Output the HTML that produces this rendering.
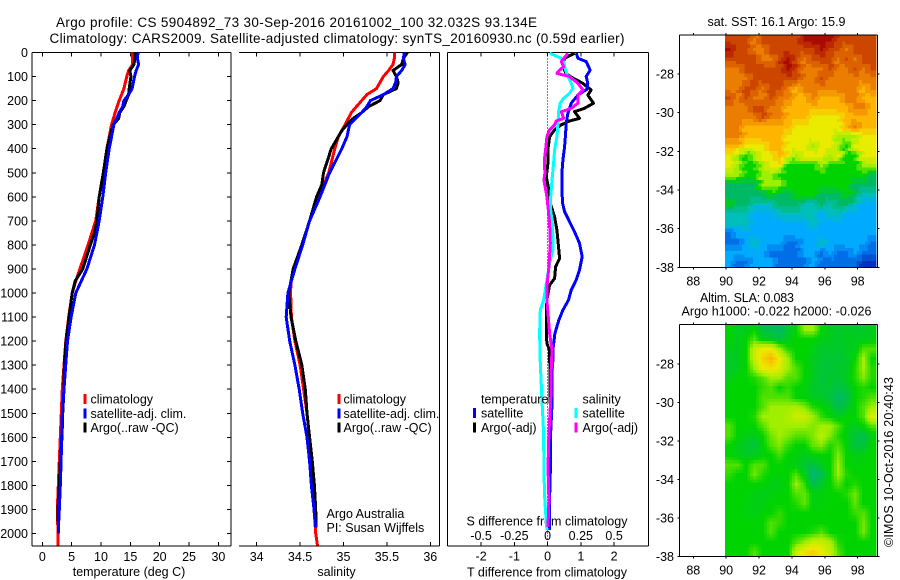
<!DOCTYPE html>
<html><head><meta charset="utf-8"><title>Argo profile</title>
<style>
html,body{margin:0;padding:0;background:#fff}
svg{display:block}
text{font-family:"Liberation Sans",sans-serif;font-size:12.5px;fill:#000}
.t{font-size:13.5px}
</style></head>
<body>
<svg id="fig" width="900" height="580" viewBox="0 0 900 580" xmlns="http://www.w3.org/2000/svg">
<text class="t" x="56" y="27" textLength="481" lengthAdjust="spacing">Argo profile: CS 5904892_73 30-Sep-2016 20161002_100 32.032S 93.134E</text>
<text class="t" x="49.5" y="43" textLength="575" lengthAdjust="spacing">Climatology: CARS2009. Satellite-adjusted climatology: synTS_20160930.nc (0.59d earlier)</text>
<text x="129" y="576" text-anchor="middle">temperature (deg C)</text>
<text x="336.5" y="576" text-anchor="middle">salinity</text>
<text x="547" y="576.5" text-anchor="middle">T difference from climatology</text>
<text x="547" y="525.5" text-anchor="middle">S difference from climatology</text>
<text x="326.5" y="518">Argo Australia</text>
<text x="326.5" y="532">PI: Susan Wijffels</text>
<text x="707.5" y="26" textLength="138" lengthAdjust="spacing">sat. SST: 16.1 Argo: 15.9</text>
<text x="700" y="302" textLength="94" lengthAdjust="spacing">Altim. SLA: 0.083</text>
<text x="681.5" y="315.5" textLength="190" lengthAdjust="spacing">Argo h1000: -0.022 h2000: -0.026</text>
<text transform="translate(893,547) rotate(-90)" textLength="170" lengthAdjust="spacing">©IMOS 10-Oct-2016 20:40:43</text>
<g id="maps"></g>
<g id="axes"></g>
<g id="series"></g>
<g id="legends"></g>
</svg>
<script>
const depthTicks = [0,100,200,300,400,500,600,700,800,900,1000,1100,1200,1300,1400,1500,1600,1700,1800,1900,2000];
const tempTicks = [0,5,10,15,20,25,30];
const salTicks = [34,34.5,35,35.5,36];
const tDiffTicks = [-2,-1,0,1,2];
const sDiffTicks = [-0.5,-0.25,0,0.25,0.5];
const sDiffTickLabels = ['-0.5','-0.25','0','0.25','0.5'];
const lonTicks = [88,90,92,94,96,98];
const latTicks = [-28,-30,-32,-34,-36,-38];

const tempClimDepth = [0,25,50,75,100,150,200,250,300,350,400,500,600,700,800,900,950,1000,1100,1200,1300,1400,1500,1600,1700,1800,1900,2000,2050];
const tempClim = [15.3,15.4,15.4,14.7,14.4,13.9,13.1,12.4,11.8,11.4,11.0,10.5,9.7,9.1,7.8,6.4,5.7,5.1,4.5,4.0,3.7,3.4,3.24,3.07,2.9,2.73,2.56,2.67,2.7];
const tempSatDepth = [0,25,50,75,100,150,175,200,225,250,300,400,500,600,700,800,900,1000,1100,1200,1300,1400,1500,1600,1700,1800,1900,1950,2000];
const tempSat = [16.3,16.2,16.4,16.0,15.7,15.3,14.7,13.9,13.7,13.1,12.2,11.4,10.8,10.3,9.7,8.9,7.6,5.7,4.9,4.3,3.98,3.7,3.4,3.3,3.2,3.07,2.9,2.8,2.73];
const tempArgoDepth = [0,25,50,75,100,150,175,200,225,250,275,300,350,400,500,600,700,750,800,900,950,1000,1100,1200,1300,1400,1500,1600,1700,1800,1900,1950];
const tempArgo = [15.8,15.8,15.6,14.9,15.1,14.8,14.7,14.3,13.9,13.2,13.0,12.1,11.5,11.0,10.4,9.7,9.3,8.9,8.2,6.9,5.6,5.1,4.55,4.04,3.75,3.7,3.47,3.36,3.07,2.9,2.67,2.67];

const salClimDepth = [0,25,50,75,100,150,175,200,250,300,350,400,500,600,700,800,900,950,1000,1100,1200,1300,1400,1500,1600,1700,1800,1900,1950,2000,2050];
const salClim = [35.585,35.585,35.57,35.52,35.46,35.38,35.27,35.21,35.09,35.02,34.94,34.90,34.83,34.71,34.61,34.52,34.43,34.395,34.39,34.40,34.44,34.50,34.54,34.58,34.61,34.63,34.645,34.66,34.67,34.68,34.70];
const salSatDepth = [0,25,50,75,100,125,150,175,200,225,250,300,350,400,500,600,700,800,900,1000,1100,1200,1300,1400,1500,1600,1700,1800,1900,1975];
const salSat = [35.70,35.69,35.71,35.67,35.61,35.60,35.57,35.46,35.31,35.27,35.21,35.07,35.04,34.98,34.84,34.73,34.61,34.53,34.44,34.36,34.34,34.38,34.44,34.49,34.53,34.58,34.61,34.63,34.66,34.68];
const salArgoDepth = [0,25,50,75,100,125,150,175,200,225,250,275,300,325,350,400,500,550,600,700,800,900,1000,1100,1200,1300,1400,1500,1600,1700,1800,1900,1975];
const salArgo = [35.735,35.69,35.67,35.57,35.61,35.63,35.61,35.46,35.42,35.29,35.21,35.11,35.04,34.98,34.94,34.86,34.77,34.75,34.69,34.61,34.52,34.42,34.37,34.395,34.45,34.52,34.56,34.58,34.61,34.64,34.665,34.68,34.685];

const dTempSatDepth = [3,24,38,73,100,128,153,177,211,253,295,336,392,447,502,572,627,662,703,745,793,849,904,946,988,1029,1071,1112,1168,1237,1279,1334,1417,1473,1584,1653,1722,1861,1986];
const dTempSat = [0.86,0.91,1.16,1.28,1.16,1.21,1.18,0.91,0.71,0.61,0.56,0.54,0.51,0.46,0.43,0.43,0.45,0.51,0.66,0.81,0.96,1.04,0.96,0.86,0.71,0.63,0.46,0.34,0.22,0.16,0.16,0.13,0.13,0.13,0.09,0.08,0.08,0.06,0.06];
const dTempArgoDepth = [3,24,45,73,87,100,128,156,177,211,232,246,274,285,301,322,350,405,461,516,572,627,683,738,793,856,891,939,967,1029,1085,1168,1210,1237,1473,1750];
const dTempArgo = [0.81,0.51,0.46,0.51,0.56,0.68,1.06,1.31,1.21,1.38,1.11,0.81,0.96,0.66,0.41,0.21,0.06,0.01,0.01,-0.04,0.04,0.08,0.21,0.28,0.32,0.36,0.24,0.21,0.06,-0.02,-0.04,-0.04,-0.02,0.06,0.08,0.08];
const dSalSatDepth = [3,24,38,73,100,128,149,170,191,211,246,295,350,405,461,530,599,655,710,766,821,877,1029,1071,1168,1293,1376,1473,1584,1722,1833,1889,1986];
const dSalSat = [0.015,0.103,0.12,0.135,0.153,0.178,0.19,0.165,0.12,0.095,0.083,0.078,0.07,0.053,0.045,0.033,0.023,0.023,0.035,0.04,0.04,0.015,-0.03,-0.055,-0.06,-0.055,-0.048,-0.04,-0.03,-0.028,-0.023,-0.018,-0.005];
const dSalArgoDepth = [3,38,59,80,87,100,128,156,177,211,232,246,274,285,301,322,350,405,447,502,530,599,655,710,793,891,960,1029,1085,1168,1237,1306,1445,1584,1722,1861,1972];
const dSalArgo = [0.153,0.103,0.12,0.078,0.07,0.165,0.228,0.266,0.228,0.228,0.178,0.103,0.12,0.065,0.053,0.015,-0.005,-0.015,-0.025,-0.02,-0.028,-0.005,0.005,0.015,0.02,0.01,-0.003,-0.005,0.003,0.015,0.033,0.028,0.023,0.01,0.003,0.01,0.003];

const sstLevels = [
[10,10,10,9,10,10,10,10,10,11,11,11,11,10,10,10,10,10],
[11,10,10,9,9,10,10,10,10,10,10,11,10,10,9,10,10,10],
[10,10,10,10,9,9,10,11,10,9,10,10,10,9,10,9,10,10],
[9,9,10,10,10,10,10,11,10,9,9,9,10,9,9,10,9,10],
[9,9,9,10,10,10,10,10,10,9,9,10,9,9,9,9,9,9],
[9,9,10,10,9,10,10,9,8,9,9,9,9,9,9,9,8,9],
[10,9,10,9,9,10,9,9,8,8,9,8,8,8,9,9,8,8],
[9,9,9,10,10,9,9,8,8,8,8,8,8,8,8,9,9,8],
[9,9,9,9,10,9,9,8,8,8,7,7,7,7,8,8,8,8],
[9,9,8,8,8,8,8,8,7,7,7,7,7,7,8,9,8,8],
[9,9,8,8,8,8,8,7,7,7,7,7,7,6,6,6,7,7],
[8,8,7,7,7,8,8,7,7,7,6,7,7,6,5,7,7,7],
[7,6,5,6,7,7,8,7,6,7,7,7,6,7,5,5,7,7],
[7,6,5,5,6,7,7,5,5,5,5,6,5,5,5,5,6,6],
[6,6,5,5,6,6,5,5,5,5,5,5,5,5,5,5,5,4],
[4,4,4,4,6,6,6,5,5,5,5,5,5,5,5,4,4,4],
[4,4,4,4,4,5,4,4,5,5,5,4,4,4,5,4,3,3],
[5,4,4,3,3,3,4,4,4,3,3,4,3,4,4,3,2,2],
[3,3,3,2,2,2,3,3,3,3,3,2,3,3,2,2,2,2],
[3,3,3,2,2,2,2,2,2,2,3,2,2,2,2,2,2,2],
[1,2,2,2,2,2,2,2,2,2,2,2,2,2,2,2,2,2],
[1,1,2,3,2,2,2,1,1,2,2,3,2,2,2,2,2,1],
[2,2,2,2,2,1,1,1,1,2,2,1,2,1,1,2,1,1],
[2,1,1,2,2,2,1,1,1,1,2,1,1,1,1,1,0,0]];

const slaLevels = [
[5,4.7,4.7,5,4.3,4.2,4,4.5,5,6,6,5,4.7,4.6,4.7,4.6,4.6,4.7],
[5,4.7,5,5.5,4.8,4.7,4.4,4.7,5,5,5,4.8,4.7,4.6,4.7,4.7,4.7,4.8],
[4.8,4.7,5,6.5,7,7,6,5.2,5,5,4.8,4.6,4.6,4.6,4.7,4.7,5.5,5.5],
[4.6,4.7,5,6.5,7.4,8,7,6,5,5,4.7,4.5,4.5,4.5,4.6,5,6,5],
[4.6,4.7,5,6,7,7.2,6.8,6,5.5,5,4.7,4.5,4.4,4.6,4.6,5.2,6,5.2],
[4.7,5,5,5.2,5.5,6,6,5.5,5.5,5,4.7,4.4,4.6,4.5,4.7,5.2,5.8,5.2],
[5,5,5,5,5.3,5.5,5,5.3,5,4.9,4.6,4.5,4.5,4.3,4.5,5,5.2,5],
[5,5,5,5,5.5,5.5,5.5,5.5,5,4.9,4.7,4.6,4.4,4,4.2,5,5.2,5.5],
[5,5,5,5,5.5,6,6,6,6.2,5.8,5.2,5,4.7,4.2,4.5,5,5.5,6],
[5,5,5,5.2,6,6,6,6.2,6.6,6.5,6,5.3,5,4.7,5,5,5.5,6.8],
[5.5,5,5,5,5.5,6,6,6,6,6,5.8,6,6,5.5,4.9,4.7,5,5.5],
[5.5,5,4.8,4.7,5,5.7,6,5.8,5.5,5.5,5.8,6.3,5.8,5.2,4.8,4.4,4.2,4.8],
[5,4.8,4.6,4.4,4.9,5.5,5.8,5.3,5,5,5.6,5.8,5.2,5.5,4.9,4.4,4.4,5],
[5,4.8,4.7,4.7,4.9,5,5.4,5,4.9,4.7,4.9,5,5,5.8,5,4.8,4.9,5],
[5.5,5.5,5,5.5,5.5,5,5,4.9,4.8,4.5,4.3,4.7,5,6,5,4.9,5,5],
[5.3,5,5,5.7,5.2,5,5,5,5.5,4.7,3.8,4.2,5,6,5.2,5,5,5],
[5,5,5,5,5,4.8,4.8,5,6,5.3,4.2,4.6,5,5.5,5,5.2,5,5],
[5,5,5,4.8,4.8,4.8,5,5,5.5,5.6,4.9,4.9,5,5,5.2,5.7,5,5],
[5,5,4.9,4.8,4.8,5,5,5,5.2,5.6,4.9,4.9,5,5,5,5.6,5,5],
[5,5,4.9,4.8,5,5,5.3,5,5,5,5,5,5,5,5,5.3,5.5,5],
[5,5,5,5,5,5.5,5.3,5,5,5,5,5,5,5,5,5,5.7,5],
[5,5,5,5,5,5.5,5,5,5,5,5.2,5.5,5,5,5,5,5.7,5],
[5,5,5,5,5,5,5,5,5.5,6,6.5,6.5,6.2,5.2,5,5,5,5],
[5,5,5,5.5,5,5,5,5,6.5,7.2,7.5,7,6.5,5.5,5,5,5,5]];

const paletteAnchors = [[0,50,190],[0,110,230],[0,170,255],[0,190,185],[0,185,100],[0,212,0],[160,238,0],[235,235,0],[255,180,0],[235,125,0],[205,70,0],[170,10,0]];

const NS = 'http://www.w3.org/2000/svg';
const panelTop = 52.5, panelBottom = 546;
const yDepth = d => 52.5 + 0.2405 * d;
const xTemp = v => 42.3 + 5.87 * v;
const xSal = v => 256.7 + 86.8 * (v - 34);
const xTDiff = v => 547.6 + 33.25 * v;
const xSDiff = v => 547.6 + 133 * v;

function make(tag, parent, attrs) {
  const el = document.createElementNS(NS, tag);
  for (const k in attrs) el.setAttribute(k, attrs[k]);
  parent.appendChild(el);
  return el;
}
function levelColor(v) {
  const i = Math.max(0, Math.min(paletteAnchors.length - 2, Math.floor(v)));
  const f = Math.max(0, Math.min(1, v - i));
  const a = paletteAnchors[i], b = paletteAnchors[i + 1];
  return 'rgb(' + a.map((c, n) => Math.round(c + (b[n] - c) * f)).join(',') + ')';
}

const axes = document.getElementById('axes');
const series = document.getElementById('series');
const legends = document.getElementById('legends');
const maps = document.getElementById('maps');

function line(x1, y1, x2, y2, nm) {
  const el = make('line', axes, {x1, y1, x2, y2, stroke: '#000', 'stroke-width': 1, 'shape-rendering': 'crispEdges'});
  
  
  return el;
}
function label(parent, x, y, str, anchor, nm) {
  const el = make('text', parent, {x, y, 'text-anchor': anchor});
  el.textContent = str;
  
  
  return el;
}

/* profile panel frames */
function profileFrame(left, right, hasLeft, ticks, scale, labels, labelY, nm) {
  line(left, panelTop, right, panelTop, nm + '-top-frame');
  line(left, panelBottom, right, panelBottom, nm + '-bottom-frame');
  line(right, panelTop, right, panelBottom, nm + '-right-frame');
  if (hasLeft) line(left, panelTop, left, panelBottom, nm + '-left-frame');
  ticks.forEach((t, i) => {
    const x = scale(t);
    line(x, panelTop, x, panelTop + 4, nm + '-top-tick');
    line(x, panelBottom - 4, x, panelBottom, nm + '-bottom-tick');
    label(axes, x, labelY, labels[i], 'middle', nm + '-tick-label');
  });
}
profileFrame(32, 231, true, tempTicks, xTemp, tempTicks.map(String), 561, 'temperature');
profileFrame(239, 439.5, false, salTicks, xSal, salTicks.map(String), 561, 'salinity');
profileFrame(447.3, 648.7, true, tDiffTicks, xTDiff, tDiffTicks.map(String), 560.5, 't-difference');
sDiffTicks.forEach((t, i) => {
  label(axes, xSDiff(t), 540, sDiffTickLabels[i], 'middle', 's-difference-tick-label');
});
depthTicks.forEach(d => {
  const y = yDepth(d);
  line(32, y, 36, y, 'depth-left-tick');
  line(227, y, 231, y, 'depth-right-tick');
  label(axes, 28, y + 4.5, String(d), 'end', 'depth-tick-label');
});

/* zero line */
const zeroLine = make('line', axes, {x1: xTDiff(0), y1: panelTop, x2: xTDiff(0), y2: panelBottom, stroke: '#000', 'stroke-width': 1, 'stroke-dasharray': '1 2', 'shape-rendering': 'crispEdges'});



/* profile series */
function drawSeries(depths, values, xf, color, width, nm) {
  const pts = values.map((v, i) => xf(v).toFixed(1) + ',' + yDepth(depths[i]).toFixed(1)).join(' ');
  const el = make('polyline', series, {points: pts, fill: 'none', stroke: color, 'stroke-width': width, 'shape-rendering': 'crispEdges', 'stroke-linejoin': 'round'});
  
  
}
drawSeries(tempClimDepth, tempClim, xTemp, '#ff0000', 3, 'temperature-climatology-line');
drawSeries(tempArgoDepth, tempArgo, xTemp, '#000000', 3, 'temperature-argo-line');
drawSeries(tempSatDepth, tempSat, xTemp, '#0000ff', 3, 'temperature-satellite-line');
drawSeries(salClimDepth, salClim, xSal, '#ff0000', 3, 'salinity-climatology-line');
drawSeries(salArgoDepth, salArgo, xSal, '#000000', 3, 'salinity-argo-line');
drawSeries(salSatDepth, salSat, xSal, '#0000ff', 3, 'salinity-satellite-line');
drawSeries(dTempArgoDepth, dTempArgo, xTDiff, '#000000', 3, 't-difference-argo-line');
drawSeries(dTempSatDepth, dTempSat, xTDiff, '#0000ff', 3, 't-difference-satellite-line');
drawSeries(dSalSatDepth, dSalSat, xSDiff, '#00ffff', 3, 's-difference-satellite-line');
drawSeries(dSalArgoDepth, dSalArgo, xSDiff, '#ff00ff', 3, 's-difference-argo-line');

/* legends */
function legendEntry(swX, top, color, textX, str, nm) {
  const r = make('rect', legends, {x: swX, y: top, width: 3, height: 10, fill: color, 'shape-rendering': 'crispEdges'});
  
  
  label(legends, textX, top + 9.5, str, 'start', nm + '-label');
}
legendEntry(83.5, 394, '#ff0000', 90.5, 'climatology', 'legend-t-climatology');
legendEntry(83.5, 408.5, '#0000ff', 90.5, 'satellite-adj. clim.', 'legend-t-satellite');
legendEntry(83.5, 422.5, '#000000', 90.5, 'Argo(..raw -QC)', 'legend-t-argo');
legendEntry(337.5, 394, '#ff0000', 343.5, 'climatology', 'legend-s-climatology');
legendEntry(337.5, 408.5, '#0000ff', 343.5, 'satellite-adj. clim.', 'legend-s-satellite');
legendEntry(337.5, 422.5, '#000000', 343.5, 'Argo(..raw -QC)', 'legend-s-argo');
label(legends, 481, 403.5, 'temperature', 'start', 'legend-temperature-heading');
label(legends, 582.5, 403.5, 'salinity', 'start', 'legend-salinity-heading');
legendEntry(473, 408, '#0000ff', 481, 'satellite', 'legend-dt-satellite');
legendEntry(473, 422.5, '#000000', 481, 'Argo(-adj)', 'legend-dt-argo');
legendEntry(574.5, 408, '#00ffff', 582.5, 'satellite', 'legend-ds-satellite');
legendEntry(574.5, 422.5, '#ff00ff', 582.5, 'Argo(-adj)', 'legend-ds-argo');

/* maps */
const xLon = v => 693.3 + 16.44 * (v - 88);
function sampleLevel(levels, u, v) {
  const rows = levels.length, cols = levels[0].length;
  const cu = Math.max(0, Math.min(cols - 1, u)), cv = Math.max(0, Math.min(rows - 1, v));
  const c0 = Math.floor(cu), r0 = Math.floor(cv);
  const c1 = Math.min(cols - 1, c0 + 1), r1 = Math.min(rows - 1, r0 + 1);
  const fu = cu - c0, fv = cv - r0;
  return (levels[r0][c0] * (1 - fu) + levels[r0][c1] * fu) * (1 - fv) + (levels[r1][c0] * (1 - fu) + levels[r1][c1] * fu) * fv;
}
function drawMap(levels, top, bottom, yTickTop, yTickStep, sub, jag, step, nm) {
  const rows = levels.length * sub, cols = levels[0].length * sub;
  const left = 725, right = 876;
  const cw = (right - left) / cols, ch = (bottom - top) / rows;
  for (let r = 0; r < rows; r++) {
    for (let c = 0; c < cols; c++) {
      const u = (c + 0.5) / sub - 0.5 + ((r % 3) - 1) * jag;
      const v = (r + 0.5) / sub - 0.5;
      let lv = sampleLevel(levels, u, v);
      if (step) lv = Math.round(lv / step) * step;
      const cell = make('rect', maps, {x: (left + c * cw).toFixed(2), y: (top + r * ch).toFixed(2), width: (cw + 0.5).toFixed(2), height: (ch + 0.5).toFixed(2), fill: levelColor(lv), 'shape-rendering': 'crispEdges'});
      
      
    }
  }
  const fL = 679.3, fR = 877.3;
  line(fL, top, fR, top, nm + '-top-frame');
  line(fL, bottom, fR, bottom, nm + '-bottom-frame');
  line(fL, top, fL, bottom, nm + '-left-frame');
  line(fR, top, fR, bottom, nm + '-right-frame');
  lonTicks.forEach(t => {
    const x = xLon(t);
    line(x, top - 2, x, top, nm + '-top-tick');
    line(x, bottom, x, bottom + 2, nm + '-bottom-tick');
    label(axes, x, bottom + 18, String(t), 'middle', nm + '-lon-label');
  });
  latTicks.forEach((t, i) => {
    const y = yTickTop + i * yTickStep;
    line(fL - 2, y, fL, y, nm + '-left-tick');
    line(fR, y, fR + 2, y, nm + '-right-tick');
    label(axes, 674, y + 4.5, String(t), 'end', nm + '-lat-label');
  });
}
drawMap(sstLevels, 35, 267.3, 74, 38.66, 3, 0.25, 0.5, 'sst-map');
drawMap(slaLevels, 324.7, 556.7, 364, 38.54, 3, 0, 0, 'sla-map');
</script>
</body></html>
